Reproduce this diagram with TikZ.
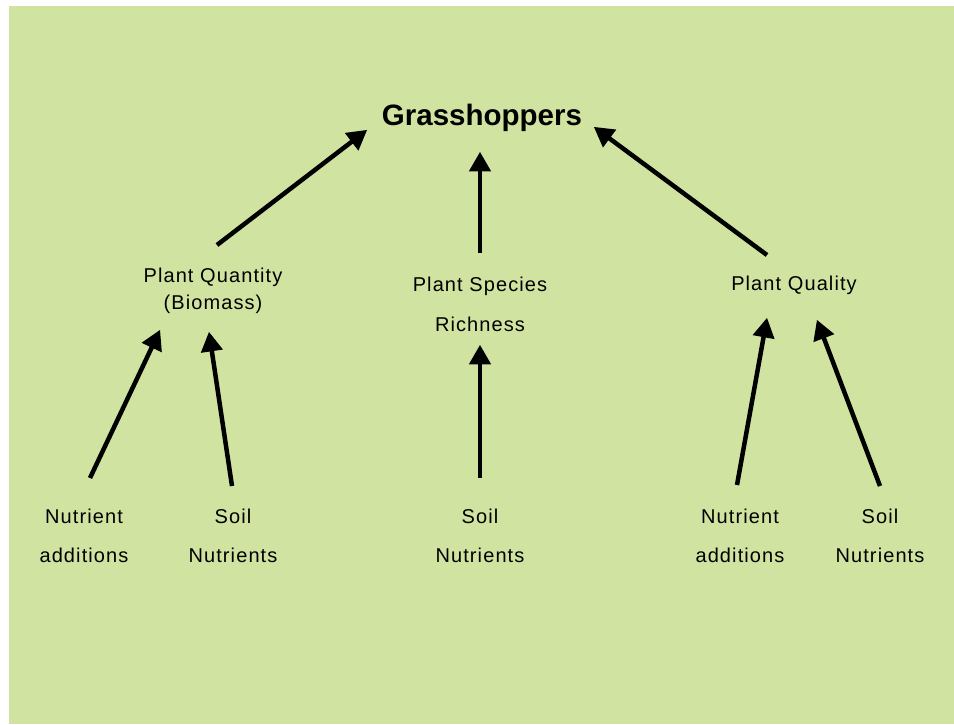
\documentclass[tikz,border=0pt]{standalone}
\usepackage{fontspec}
\setmainfont{Liberation Sans}
\usepackage{tikz}
\usetikzlibrary{arrows}
\usetikzlibrary{positioning}
\definecolor{meadow}{RGB}{209,227,160}

\begin{document}
\begin{tikzpicture}[x=1pt, y=-1pt, >=triangle 60, line width=4.5pt,
    label/.style={align=center, font=\fontsize{20}{22}\selectfont\addfontfeature{LetterSpace=5.5}},
    link/.style={->}]
			\useasboundingbox (0,0) rectangle (954,724);
			\fill[meadow] (9,6) rectangle (954,724);
			\node[font=\bfseries\fontsize{29.5}{33}\selectfont] (Gh) at (482,118) {Grasshoppers};
			\node[label] (Quant) at (213,291) {Plant Quantity\\[5pt](Biomass)};
			\node[label] (Rich) at (480,304) {Plant Species\\[18pt]Richness};
			\node[label] (Qual) at (794,285) {Plant Quality};
			\node[label] (Add1) at (84,536) {Nutrient\\[17pt]additions};
			\node[label] (Soil1) at (233,536) {Soil\\[17pt]Nutrients};
			\node[label] (Soil2) at (480,536) {Soil\\[17pt]Nutrients};
			\node[label] (Add2) at (740,536) {Nutrient\\[17pt]additions};
			\node[label] (Soil3) at (880,536) {Soil\\[17pt]Nutrients};
			\draw[link] ([shift={(4,-46)}]Quant.center) -- ([shift={(-115,12)}]Gh.center);
			\draw[link] ([shift={(0,-51)}]Rich.center) -- ([shift={(-2,34)}]Gh.center);
			\draw[link] ([shift={(-27,-30)}]Qual.center) -- ([shift={(112,9)}]Gh.center);
			\draw[link] ([shift={(6,-58)}]Add1.center) -- ([shift={(-53,39)}]Quant.center);
			\draw[link] ([shift={(-1,-50)}]Soil1.center) -- ([shift={(-4,41)}]Quant.center);
			\draw[link] ([shift={(0,-58)}]Soil2.center) -- ([shift={(0,41)}]Rich.center);
			\draw[link] ([shift={(-3,-51)}]Add2.center) -- ([shift={(-27,33)}]Qual.center);
			\draw[link] ([shift={(0,-50)}]Soil3.center) -- ([shift={(23,35)}]Qual.center);
		\end{tikzpicture}
\end{document}
